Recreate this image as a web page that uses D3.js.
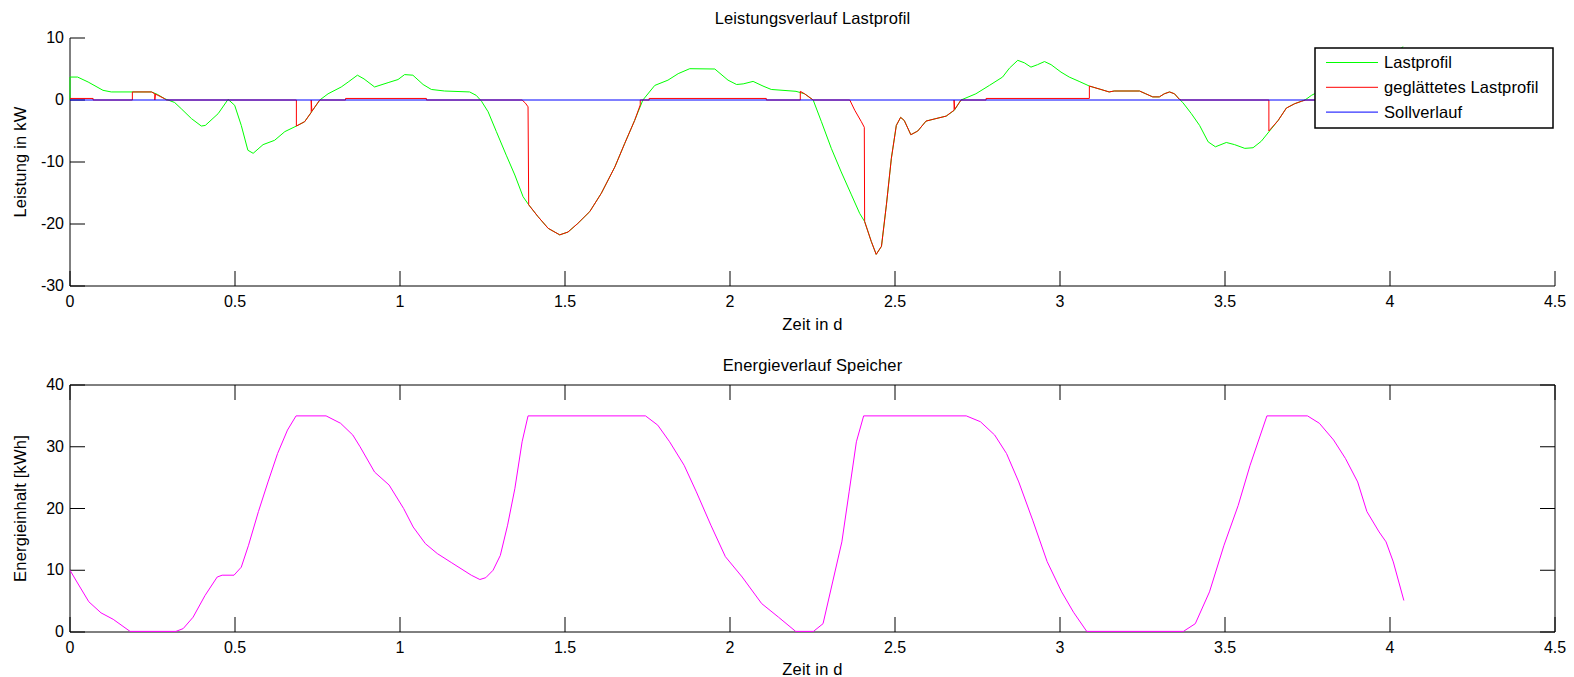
<!DOCTYPE html>
<html>
<head>
<meta charset="utf-8">
<script src="https://cdn.jsdelivr.net/npm/d3@7"></script>
<style>
body { margin: 0; background: #fff; }
text { font-family: "Liberation Sans", Arial, sans-serif; fill: #000; }
</style>
</head>
<body>
<script>
// Lastprofil (kW) over time (d)
const lastT = [0, 0, 0.023, 0.055, 0.1, 0.125, 0.247, 0.265, 0.287, 0.317, 0.337,
  0.368, 0.398, 0.41, 0.449, 0.479, 0.499, 0.519, 0.539, 0.555, 0.585,
  0.62, 0.651, 0.686, 0.711, 0.731, 0.757, 0.782, 0.822, 0.843, 0.871,
  0.891, 0.923, 0.964, 0.994, 1.014, 1.039, 1.07, 1.095, 1.135, 1.211,
  1.231, 1.247, 1.267, 1.292, 1.322, 1.348, 1.373, 1.39, 1.418, 1.449,
  1.484, 1.509, 1.539, 1.575, 1.61, 1.651, 1.681, 1.711, 1.736, 1.772,
  1.812, 1.843, 1.878, 1.954, 1.994, 2.02, 2.04, 2.07, 2.1, 2.125,
  2.2, 2.226, 2.252, 2.277, 2.307, 2.337, 2.368, 2.393, 2.408, 2.428,
  2.443, 2.459, 2.474, 2.489, 2.504, 2.517, 2.528, 2.548, 2.569, 2.594,
  2.624, 2.655, 2.68, 2.7, 2.745, 2.786, 2.826, 2.847, 2.872, 2.892,
  2.912, 2.932, 2.953, 2.973, 3.003, 3.028, 3.058, 3.089, 3.124, 3.149,
  3.164, 3.241, 3.26, 3.281, 3.301, 3.316, 3.332, 3.347, 3.362, 3.372,
  3.398, 3.423, 3.449, 3.471, 3.504, 3.529, 3.56, 3.585, 3.61, 3.635,
  3.661, 3.686, 3.711, 3.732, 3.745, 3.762, 3.8, 3.86, 3.92, 3.98, 4.04];
const lastP = [0, 3.7, 3.7, 2.9, 1.56, 1.3, 1.3, 0.9, 0.2, -0.4, -1.4,
  -3.0, -4.2, -4.1, -2.2, 0.1, -0.85, -4.1, -8.1, -8.6, -7.2,
  -6.5, -5.1, -4.2, -3.5, -2.0, 0, 1.0, 2.1, 2.9, 4.0,
  3.4, 2.1, 2.8, 3.3, 4.1, 4.0, 2.5, 1.7, 1.45, 1.3,
  0.75, -0.2, -1.9, -5.1, -8.9, -12.1, -15.6, -16.9, -18.8, -20.7,
  -21.75, -21.3, -19.9, -18.0, -15.05, -10.8, -7.0, -3.3, 0, 2.35,
  3.2, 4.25, 5.05, 5.0, 3.2, 2.5, 2.6, 3.0, 2.25, 1.7,
  1.4, 1.0, 0, -3.5, -7.8, -11.6, -15.3, -18.3, -19.6, -22.8,
  -24.9, -23.6, -16.9, -9.4, -4.1, -2.8, -3.3, -5.6, -5.0, -3.4,
  -3.0, -2.6, -1.65, 0, 1.0, 2.35, 3.7, 5.15, 6.4, 6.0,
  5.3, 5.7, 6.2, 5.7, 4.5, 3.7, 3.0, 2.25, 1.7, 1.3,
  1.45, 1.45, 1.0, 0.5, 0.5, 1.0, 1.3, 1.0, 0.1, -0.4,
  -2.2, -4.1, -6.75, -7.55, -6.85, -7.2, -7.8, -7.7, -6.65, -5.0,
  -3.3, -1.3, -0.6, -0.2, 0.1, 0.75, 1.8, 3.2, 4.6, 6.2, 8.6];

// geglaettetes Lastprofil
const glattT = [0, 0.07, 0.07, 0.189, 0.189, 0.247, 0.257, 0.257, 0.259, 0.287,
  0.292, 0.686, 0.686, 0.711, 0.731, 0.731, 0.733, 0.757, 0.835, 0.835,
  1.08, 1.08, 1.37, 1.38, 1.388, 1.39, 1.418, 1.449, 1.484, 1.509,
  1.539, 1.575, 1.61, 1.651, 1.681, 1.711, 1.728, 1.728, 1.755, 1.755,
  2.11, 2.11, 2.213, 2.213, 2.226, 2.252, 2.363, 2.378, 2.398, 2.407,
  2.408, 2.428, 2.443, 2.459, 2.474, 2.489, 2.504, 2.517, 2.528, 2.548,
  2.569, 2.594, 2.624, 2.655, 2.679, 2.679, 2.681, 2.7, 2.776, 2.776,
  3.089, 3.089, 3.124, 3.149, 3.164, 3.241, 3.26, 3.281, 3.301, 3.316,
  3.332, 3.347, 3.362, 3.368, 3.633, 3.633, 3.661, 3.686, 3.711, 3.732,
  3.745, 4.04];
const glattP = [0.25, 0.25, 0, 0, 1.3, 1.3, 1.0, 0, 0.95, 0.2,
  0, 0, -4.2, -3.5, -2.0, 0, -1.8, 0, 0, 0.25,
  0.25, 0, 0, -0.5, -1.1, -16.9, -18.8, -20.7, -21.75, -21.3,
  -19.9, -18.0, -15.05, -10.8, -7.0, -3.3, -0.8, 0, 0, 0.25,
  0.25, 0, 0, 1.4, 1.0, 0, 0, -1.65, -3.5, -4.4,
  -19.6, -22.8, -24.9, -23.6, -16.9, -9.4, -4.1, -2.8, -3.3, -5.6,
  -5.0, -3.4, -3.0, -2.6, -1.65, 0, -1.5, 0, 0, 0.25,
  0.25, 2.25, 1.7, 1.3, 1.45, 1.45, 1.0, 0.5, 0.5, 1.0,
  1.3, 1.0, 0.1, 0, 0, -5.0, -3.3, -1.3, -0.6, -0.2,
  0, 0];

// Sollverlauf
const sollT = [0, 4.04];
const sollP = [0, 0];

// Energieinhalt Speicher (kWh)
const speicherT = [0, 0.021, 0.057, 0.094, 0.131, 0.182, 0.321, 0.343, 0.373, 0.409,
  0.446, 0.461, 0.497, 0.519, 0.541, 0.571, 0.6, 0.629, 0.659, 0.685,
  0.776, 0.82, 0.857, 0.879, 0.923, 0.967, 1.011, 1.04, 1.077, 1.113,
  1.157, 1.216, 1.242, 1.26, 1.282, 1.304, 1.326, 1.348, 1.37, 1.388,
  1.744, 1.781, 1.817, 1.861, 1.898, 1.942, 1.986, 2.037, 2.096, 2.147,
  2.199, 2.253, 2.282, 2.311, 2.339, 2.361, 2.383, 2.405, 2.716, 2.759,
  2.802, 2.838, 2.875, 2.918, 2.961, 3.005, 3.041, 3.081, 3.374, 3.41,
  3.453, 3.497, 3.54, 3.576, 3.627, 3.75, 3.786, 3.829, 3.865, 3.902,
  3.93, 3.967, 3.988, 4.01, 4.042];
const speicherE = [10, 8.1, 4.9, 3.1, 2.05, 0.1, 0.1, 0.55, 2.4, 5.9,
  8.9, 9.2, 9.2, 10.5, 14.05, 19.5, 24.3, 28.9, 32.7, 35,
  35, 33.8, 31.9, 30, 25.9, 23.8, 20, 17, 14.3, 12.7,
  11.2, 9.2, 8.5, 8.8, 10, 12.4, 17.3, 23.2, 30.8, 35,
  35, 33.5, 30.8, 27, 22.7, 17.3, 12.2, 8.9, 4.6, 2.4,
  0.1, 0.1, 1.35, 8.1, 14.6, 22.7, 30.8, 35, 35, 34.05,
  31.9, 28.9, 24.3, 18.0, 11.4, 6.5, 3.2, 0.1, 0.1, 1.35,
  6.5, 14.05, 20.5, 27, 35, 35, 33.8, 31.1, 28.1, 24.3,
  19.5, 16.2, 14.6, 11.35, 5.1];

const xTickValues = [0, 0.5, 1, 1.5, 2, 2.5, 3, 3.5, 4, 4.5];
const leistungTicks = [-30, -20, -10, 0, 10];
const energieTicks = [0, 10, 20, 30, 40];
const legendLabels = ["Lastprofil", "geglättetes Lastprofil", "Sollverlauf"];
const legendColors = ["#00ff00", "#ff0000", "#0000ff"];

const width = 1574;
const height = 677;

const svg = d3.select("body").append("svg")
    .attr("width", width)
    .attr("height", height);

const x = d3.scaleLinear().domain([0, 4.5]).range([70, 1555]);
const yUp = d3.scaleLinear().domain([-30, 10]).range([286, 38]);
const yLow = d3.scaleLinear().domain([0, 40]).range([632, 385]);

function styleAxis(g) {
    g.attr("font-size", 16)
     .attr("font-family", '"Liberation Sans", Arial, sans-serif');
    g.selectAll("path, line").attr("stroke", "#000");
}

// --- upper plot (box off) ---
const upper = svg.append("g");

upper.append("g")
    .attr("transform", `translate(0,${yUp(-30)})`)
    .call(d3.axisBottom(x).tickValues(xTickValues).tickFormat(d => d)
        .tickSizeInner(-15).tickSizeOuter(0).tickPadding(10).offset(0))
    .call(styleAxis);

upper.append("g")
    .attr("transform", `translate(${x(0)},0)`)
    .call(d3.axisLeft(yUp).tickValues(leistungTicks).tickFormat(d => d)
        .tickSizeInner(-15).tickSizeOuter(0).tickPadding(6).offset(0))
    .call(styleAxis);

const lineUp = (ts, vs) => d3.line()
    .x(i => x(ts[i]))
    .y(i => yUp(vs[i]))(d3.range(ts.length));

upper.append("path").attr("d", lineUp(lastT, lastP))
    .attr("fill", "none").attr("stroke", "#00ff00").attr("stroke-width", 1);
upper.append("path").attr("d", lineUp(glattT, glattP))
    .attr("fill", "none").attr("stroke", "#ff0000").attr("stroke-width", 1);
upper.append("path").attr("d", lineUp(sollT, sollP))
    .attr("fill", "none").attr("stroke", "#0000ff").attr("stroke-width", 1);

upper.append("text")
    .attr("x", (x(0) + x(4.5)) / 2).attr("y", 24)
    .attr("text-anchor", "middle").attr("font-size", 16.5).attr("letter-spacing", 0.15)
    .text("Leistungsverlauf Lastprofil");
upper.append("text")
    .attr("x", (x(0) + x(4.5)) / 2).attr("y", 330)
    .attr("text-anchor", "middle").attr("font-size", 16.5).attr("letter-spacing", 0.2)
    .text("Zeit in d");
upper.append("text")
    .attr("transform", `translate(26,${(yUp(-30) + yUp(10)) / 2}) rotate(-90)`)
    .attr("text-anchor", "middle").attr("font-size", 16.5).attr("letter-spacing", 0.2)
    .text("Leistung in kW");

// legend
const legend = upper.append("g");
legend.append("rect")
    .attr("x", 1315).attr("y", 48).attr("width", 238).attr("height", 80)
    .attr("fill", "#fff").attr("stroke", "#000").attr("stroke-width", 1.5);
legendLabels.forEach((label, i) => {
    const ly = 62.5 + i * 24.8;
    legend.append("line")
        .attr("x1", 1326).attr("x2", 1378).attr("y1", ly).attr("y2", ly)
        .attr("stroke", legendColors[i]).attr("stroke-width", 1);
    legend.append("text")
        .attr("x", 1384).attr("y", ly).attr("dy", "0.35em")
        .attr("font-size", 16.5).attr("letter-spacing", 0.1)
        .text(label);
});

// --- lower plot (box on) ---
const lower = svg.append("g");

lower.append("g")
    .attr("transform", `translate(0,${yLow(0)})`)
    .call(d3.axisBottom(x).tickValues(xTickValues).tickFormat(d => d)
        .tickSizeInner(-15).tickSizeOuter(0).tickPadding(10).offset(0))
    .call(styleAxis);
lower.append("g")
    .attr("transform", `translate(0,${yLow(40)})`)
    .call(d3.axisTop(x).tickValues(xTickValues).tickFormat("")
        .tickSizeInner(-15).tickSizeOuter(0).offset(0))
    .call(styleAxis);
lower.append("g")
    .attr("transform", `translate(${x(0)},0)`)
    .call(d3.axisLeft(yLow).tickValues(energieTicks).tickFormat(d => d)
        .tickSizeInner(-15).tickSizeOuter(0).tickPadding(6).offset(0))
    .call(styleAxis);
lower.append("g")
    .attr("transform", `translate(${x(4.5)},0)`)
    .call(d3.axisRight(yLow).tickValues(energieTicks).tickFormat("")
        .tickSizeInner(-15).tickSizeOuter(0).offset(0))
    .call(styleAxis);

lower.append("path")
    .attr("d", d3.line()
        .x(i => x(speicherT[i]))
        .y(i => yLow(speicherE[i]))(d3.range(speicherT.length)))
    .attr("fill", "none").attr("stroke", "#ff00ff").attr("stroke-width", 1);

lower.append("text")
    .attr("x", (x(0) + x(4.5)) / 2).attr("y", 370.5)
    .attr("text-anchor", "middle").attr("font-size", 16.5).attr("letter-spacing", 0.15)
    .text("Energieverlauf Speicher");
lower.append("text")
    .attr("x", (x(0) + x(4.5)) / 2).attr("y", 675)
    .attr("text-anchor", "middle").attr("font-size", 16.5).attr("letter-spacing", 0.2)
    .text("Zeit in d");
lower.append("text")
    .attr("transform", `translate(26,${(yLow(0) + yLow(40)) / 2}) rotate(-90)`)
    .attr("text-anchor", "middle").attr("font-size", 16.5).attr("letter-spacing", 0.2)
    .text("Energieinhalt [kWh]");
</script>
</body>
</html>
